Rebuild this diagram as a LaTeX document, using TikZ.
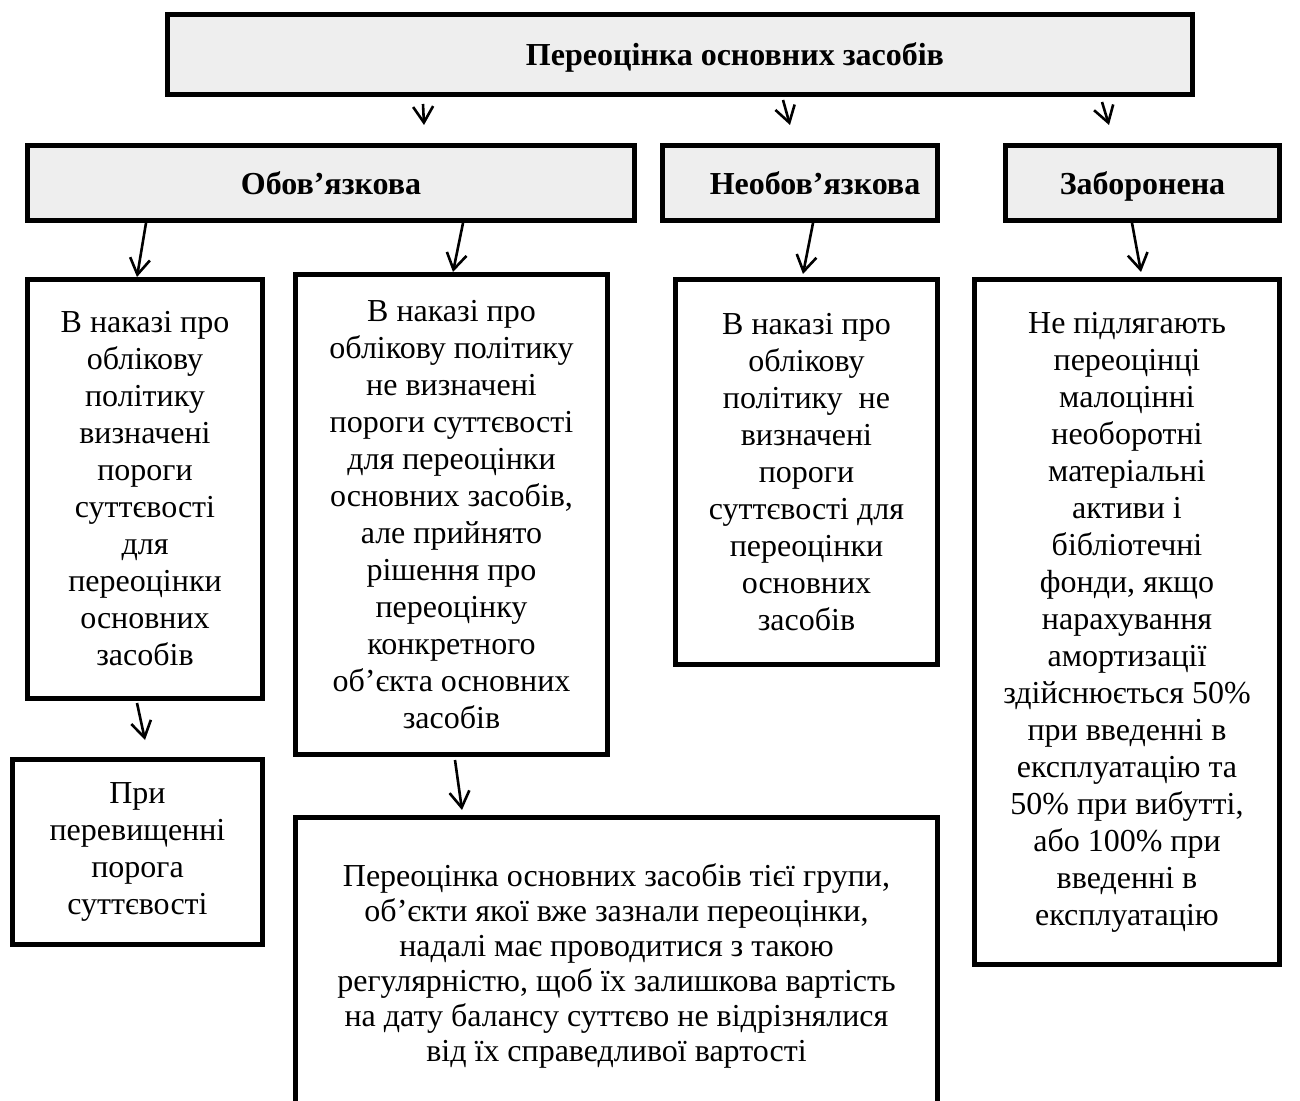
\documentclass[tikz,border=0pt]{standalone}
\usepackage{fontspec}
\setmainfont{Liberation Serif}
\usetikzlibrary{arrows.meta,calc}
\definecolor{boxgray}{RGB}{238,238,238}
\begin{document}
\begin{tikzpicture}[x=0.5pt,y=-0.5pt,
  box/.style={draw, line width=2.5pt, align=center, inner sep=0pt, font=\fontsize{16}{18.5}\selectfont},
  head/.style={box, fill=boxgray, font=\fontsize{16}{18.5}\selectfont\bfseries, text height=15pt, text depth=3.5pt},
  arr/.style={line width=1.3pt, -{Straight Barb[length=8pt,width=10pt]}}]
\useasboundingbox (0,0) rectangle (1300,1101);

\node[head, minimum width=512.5pt, minimum height=40pt] (top) at (680,54.5)
  {\hspace*{55pt}Переоцінка основних засобів};
\node[head, minimum width=303.5pt, minimum height=37.5pt] (obov) at (331,183) {Обов’язкова};
\node[head, minimum width=137.5pt, minimum height=37.5pt] (neob) at (800,183) {\hspace*{15pt}Необов’язкова};
\node[head, minimum width=137pt, minimum height=37.5pt] (zab) at (1142.5,183) {Заборонена};

\node[box, minimum width=117.5pt, minimum height=209.5pt] (a) at (145,489)
  {В наказі про\\облікову\\політику\\визначені\\пороги\\суттєвості\\для\\переоцінки\\основних\\засобів};
\node[box, minimum width=156pt, minimum height=240pt] (b) at (451.5,514.5)
  {В наказі про\\облікову політику\\не визначені\\пороги суттєвості\\для переоцінки\\основних засобів,\\але прийнято\\рішення про\\переоцінку\\конкретного\\об’єкта основних\\засобів};
\node[box, minimum width=131pt, minimum height=192.5pt] (c) at (806.5,472)
  {В наказі про\\облікову\\політику~ не\\визначені\\пороги\\суттєвості для\\переоцінки\\основних\\засобів};
\node[box, minimum width=152.5pt, minimum height=342.5pt] (d) at (1127,622)
  {Не підлягають\\переоцінці\\малоцінні\\необоротні\\матеріальні\\активи і\\бібліотечні\\фонди, якщо\\нарахування\\амортизації\\здійснюється 50\%\\при введенні в\\експлуатацію та\\50\% при вибутті,\\або 100\% при\\введенні в\\експлуатацію};
\node[box, minimum width=125pt, minimum height=92.5pt] (e) at (137.5,852)
  {При\\перевищенні\\порога\\суттєвості};
\node[box, minimum width=321pt, minimum height=148.5pt, font=\fontsize{16}{17.5}\selectfont] (f) at (616.5,966)
  {Переоцінка основних засобів тієї групи,\\об’єкти якої вже зазнали переоцінки,\\надалі має проводитися з такою\\регулярністю, щоб їх залишкова вартість\\на дату балансу суттєво не відрізнялися\\від їх справедливої вартості};

\draw[arr] ($(top.south west)+(258,7)$) -- ($(obov.north west)+(399,-18)$);
\draw[arr] ($(top.south west)+(618,3)$) -- ($(neob.north west)+(130,-18)$);
\draw[arr] ($(top.south west)+(937,5)$) -- ($(zab.north west)+(106,-18)$);
\draw[arr] ($(obov.south west)+(121,0)$) -- ($(a.north west)+(112,0)$);
\draw[arr] ($(obov.south west)+(438,0)$) -- ($(b.north west)+(160,0)$);
\draw[arr] ($(neob.south west)+(153,0)$) -- ($(c.north west)+(130,-3)$);
\draw[arr] ($(zab.south west)+(129,0)$) -- ($(d.north west)+(169,-5)$);
\draw[arr] ($(a.south west)+(112,2)$) -- ($(e.north west)+(135,-17)$);
\draw[arr] ($(b.south west)+(162,3)$) -- ($(f.north west)+(169,-5)$);
\end{tikzpicture}
\end{document}
